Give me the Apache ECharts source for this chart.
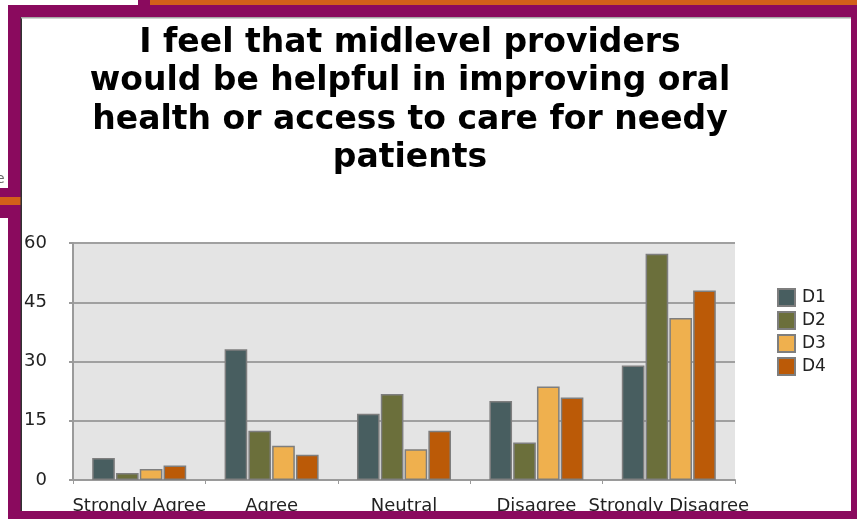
<!DOCTYPE html>
<html>
<head>
<meta charset="utf-8">
<script src="https://cdn.jsdelivr.net/npm/echarts@6/dist/echarts.min.js"></script>
<style>
html,body{margin:0;padding:0;background:#fff;}
#chart{width:857px;height:519px;}
</style>
</head>
<body>
<div id="chart"></div>
<script>
const titleText = "I feel that midlevel providers\nwould be helpful in improving oral\nhealth or access to care for needy\npatients";
const categories = ["Strongly Agree", "Agree", "Neutral", "Disagree", "Strongly Disagree"];
const seriesNames = ["D1", "D2", "D3", "D4"];
const d1 = [5.6, 33.1, 16.8, 20.0, 29.0];
const d2 = [1.8, 12.5, 21.8, 9.5, 57.3];
const d3 = [2.8, 8.7, 7.8, 23.7, 41.0];
const d4 = [3.7, 6.4, 12.5, 20.9, 48.0];
const yTicks = [0, 15, 30, 45, 60];
const colors = ["#485E60", "#6B6F3B", "#EFB04E", "#BB5A07"];

const chart = echarts.init(document.getElementById('chart'), null, {renderer: 'canvas'});
const font = "'DejaVu Sans', Verdana, sans-serif";
const values = [d1, d2, d3, d4];

chart.setOption({
  backgroundColor: '#ffffff',
  animation: false,
  title: {
    text: titleText,
    left: 405,
    top: 19,
    textAlign: 'center',
    textStyle: {fontFamily: font, fontWeight: 'bold', fontSize: 33, lineHeight: 38.5, color: '#000'}
  },
  legend: {
    orient: 'vertical',
    left: 772,
    top: 283,
    itemWidth: 17,
    itemHeight: 17,
    itemGap: 4,
    icon: 'rect',
    data: seriesNames,
    textStyle: {fontFamily: font, fontSize: 17, color: '#222', padding: [0,0,0,2]}
  },
  grid: {
    left: 73, right: 122, top: 243, bottom: 39,
    show: true, backgroundColor: '#E4E4E4', borderWidth: 0
  },
  xAxis: {
    type: 'category',
    data: categories,
    axisLine: {lineStyle: {color: '#9A9A9A', width: 2}},
    axisTick: {show: true, length: 4, inside: false, lineStyle: {color: '#9A9A9A', width: 1}},
    axisLabel: {fontFamily: font, fontSize: 18, color: '#222', margin: 17, interval: 0}
  },
  yAxis: {
    type: 'value',
    min: 0, max: 60, interval: 15,
    axisLine: {show: true, lineStyle: {color: '#9A9A9A', width: 2}},
    axisTick: {show: true, length: 4, lineStyle: {color: '#9A9A9A', width: 2}},
    splitLine: {lineStyle: {color: '#A0A0A0', width: 2}},
    axisLabel: {fontFamily: font, fontSize: 18, color: '#222', margin: 26,
      formatter: v => yTicks.includes(v) ? String(v) : ''}
  },
  series: seriesNames.map((n, i) => ({
    name: n,
    type: 'bar',
    data: values[i],
    barGap: '5%',
    barCategoryGap: '29%',
    itemStyle: {color: colors[i], borderColor: '#7E7E7E', borderWidth: 1.5}
  })),
  graphic: [
    {type: 'rect', shape: {x: 148, y: 0, width: 709, height: 6}, style: {fill: '#D2601A'}, z: 100},
    {type: 'rect', shape: {x: 138, y: 0, width: 12, height: 6}, style: {fill: '#8A0A5E'}, z: 101},
    {type: 'rect', shape: {x: 8, y: 5, width: 849, height: 12}, style: {fill: '#8A0A5E'}, z: 100},
    {type: 'rect', shape: {x: 8, y: 5, width: 13, height: 514}, style: {fill: '#8A0A5E'}, z: 100},
    {type: 'rect', shape: {x: 851, y: 5, width: 6, height: 514}, style: {fill: '#8A0A5E'}, z: 100},
    {type: 'rect', shape: {x: 8, y: 511, width: 849, height: 8}, style: {fill: '#8A0A5E'}, z: 100},
    {type: 'rect', shape: {x: 0, y: 188, width: 21, height: 30}, style: {fill: '#8A0A5E'}, z: 100},
    {type: 'rect', shape: {x: 0, y: 197, width: 21, height: 8}, style: {fill: '#D2601A'}, z: 101},
    {type: 'rect', shape: {x: 20.5, y: 17, width: 1.5, height: 494}, style: {fill: '#333'}, z: 102},
    {type: 'rect', shape: {x: 21, y: 17, width: 830, height: 1.5}, style: {fill: '#A8A8A8'}, z: 102},
    {type: 'text', x: -4, y: 172, style: {text: 'e', fill: '#666', fontFamily: font, fontSize: 14}, z: 99}
  ]
});
</script>
</body>
</html>
